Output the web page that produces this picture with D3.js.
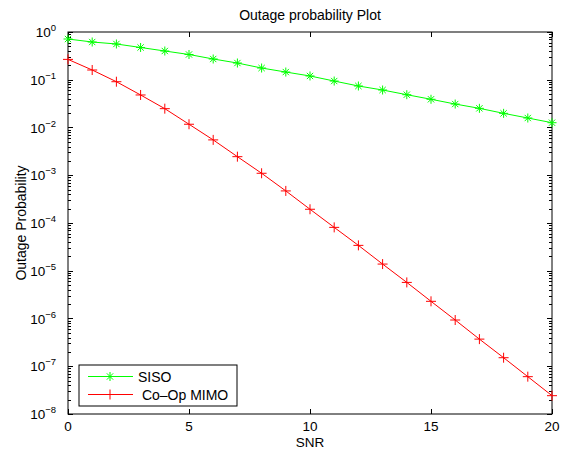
<!DOCTYPE html>
<html lang="en">
<head>
<meta charset="UTF-8">
<title>Outage probability Plot</title>
<script src="https://cdnjs.cloudflare.com/ajax/libs/d3/7.8.5/d3.min.js"></script>
<style>
    body { margin: 0; background: #fff; }
    svg text { font-family: "Liberation Sans", Arial, sans-serif; fill: #000; }
</style>
</head>
<body>
<div id="chart"></div>
<script>
// SNR values
var snr = [0, 1, 2, 3, 4, 5, 6, 7, 8, 9, 10, 11, 12, 13, 14, 15, 16, 17, 18, 19, 20];
// outage probability, single antenna
var siso = [0.713, 0.617, 0.561, 0.474, 0.400, 0.338, 0.272, 0.224, 0.176, 0.145, 0.120,
            0.094, 0.074, 0.061, 0.0486, 0.039, 0.031, 0.0252, 0.0198, 0.0158, 0.0126];
// outage probability, cooperative MIMO
var coop = [0.267, 0.160, 0.091, 0.048, 0.0248, 0.0117, 0.0055, 0.00245, 0.0011, 0.00047, 1.94e-4,
            8.1e-5, 3.4e-5, 1.38e-5, 5.7e-6, 2.29e-6, 9.3e-7, 3.7e-7, 1.51e-7, 6.05e-8, 2.42e-8];
var xTicks = [0, 5, 10, 15, 20];
var yExps = [0, -1, -2, -3, -4, -5, -6, -7, -8];

var margin = { top: 32, right: 18, bottom: 38, left: 68 },
    width = 570 - margin.left - margin.right,
    height = 452 - margin.top - margin.bottom;

var svg = d3.select("#chart")
    .append("svg")
    .attr("width", 570)
    .attr("height", 452)
    .append("g")
    .attr("transform", "translate(" + margin.left + "," + margin.top + ")");

var x = d3.scaleLinear().domain([0, 20]).range([0, width]);
var y = d3.scaleLog().domain([1e-8, 1]).range([height, 0]);

// minor ticks for log axis
var minor = [];
yExps.forEach(function (e) {
    if (e === 0) return;
    for (var k = 2; k <= 9; k++) minor.push(k * Math.pow(10, e));
});

// frame
svg.append("rect")
    .attr("width", width).attr("height", height)
    .attr("fill", "none").attr("stroke", "#000").attr("stroke-width", 1);

// x ticks (bottom and top, inward)
svg.selectAll(".xt").data(xTicks).enter().append("path")
    .attr("d", function (d) {
        var px = Math.round(x(d)) + 0.5;
        return "M" + px + "," + height + "v-5M" + px + ",0v5";
    })
    .attr("stroke", "#000");

svg.selectAll(".xl").data(xTicks).enter().append("text")
    .attr("x", function (d) { return x(d); })
    .attr("y", height + 17)
    .attr("text-anchor", "middle")
    .style("font-size", "13.5px")
    .text(function (d) { return d; });

// y ticks
svg.selectAll(".yt").data(yExps).enter().append("path")
    .attr("d", function (d) {
        var py = Math.round(y(Math.pow(10, d))) + 0.5;
        return "M0," + py + "h5M" + width + "," + py + "h-5";
    })
    .attr("stroke", "#000");

svg.selectAll(".ym").data(minor).enter().append("path")
    .attr("d", function (d) {
        var py = Math.round(y(d)) + 0.5;
        return "M0," + py + "h3M" + width + "," + py + "h-3";
    })
    .attr("stroke", "#000");

var yl = svg.selectAll(".yl").data(yExps).enter().append("text")
    .attr("x", -12)
    .attr("y", function (d) { return y(Math.pow(10, d)) + 5; })
    .attr("text-anchor", "end")
    .style("font-size", "13.5px");
yl.append("tspan").text("10");
yl.append("tspan")
    .attr("dy", -6)
    .style("font-size", "9.5px")
    .text(function (d) { return d === 0 ? "0" : "\u2212" + (-d); });

// lines
var line = d3.line()
    .x(function (d, i) { return x(snr[i]); })
    .y(function (d) { return y(d); });

function star(s) {
    return "M" + -s + ",0h" + 2 * s + "M0," + -s + "v" + 2 * s +
        "M" + -s * 0.7 + "," + -s * 0.7 + "l" + 1.4 * s + "," + 1.4 * s +
        "M" + -s * 0.7 + "," + s * 0.7 + "l" + 1.4 * s + "," + -1.4 * s;
}
function plus(s) {
    return "M" + -s + ",0h" + 2 * s + "M0," + -s + "v" + 2 * s;
}

var series = [
    { name: "SISO", values: siso, color: "#00ff00", marker: function () { return star(4.5); } },
    { name: "\u00a0Co\u2013Op MIMO", values: coop, color: "#ff0000", marker: function () { return plus(5); } }
];

series.forEach(function (s) {
    svg.append("path")
        .datum(s.values)
        .attr("fill", "none")
        .attr("stroke", s.color)
        .attr("stroke-width", 1)
        .attr("d", line);
    svg.selectAll(null).data(s.values).enter().append("path")
        .attr("transform", function (d, i) { return "translate(" + x(snr[i]) + "," + y(d) + ")"; })
        .attr("d", s.marker())
        .attr("stroke", s.color)
        .attr("stroke-width", 1)
        .attr("fill", "none");
});

// title and axis labels
svg.append("text")
    .attr("x", width / 2).attr("y", -12)
    .attr("text-anchor", "middle")
    .style("font-size", "14px")
    .text("Outage probability Plot");

svg.append("text")
    .attr("x", width / 2).attr("y", height + 33)
    .attr("text-anchor", "middle")
    .style("font-size", "13.5px")
    .text("SNR");

svg.append("text")
    .attr("transform", "rotate(-90)")
    .attr("x", -height / 2).attr("y", -42)
    .attr("text-anchor", "middle")
    .style("font-size", "14px")
    .text("Outage Probability");

// legend
var lg = svg.append("g").attr("transform", "translate(11,333)");
lg.append("rect")
    .attr("x", 0).attr("y", 0).attr("width", 158).attr("height", 41)
    .attr("fill", "#fff").attr("stroke", "#000");
series.forEach(function (s, i) {
    var ly = 11.5 + i * 18;
    lg.append("path").attr("d", "M9," + ly + "h45").attr("stroke", s.color);
    lg.append("path")
        .attr("transform", "translate(31," + ly + ")")
        .attr("d", s.marker())
        .attr("stroke", s.color).attr("fill", "none");
    lg.append("text")
        .attr("x", 59).attr("y", ly + 5)
        .style("font-size", "14px")
        .text(s.name);
});
</script>
</body>
</html>
